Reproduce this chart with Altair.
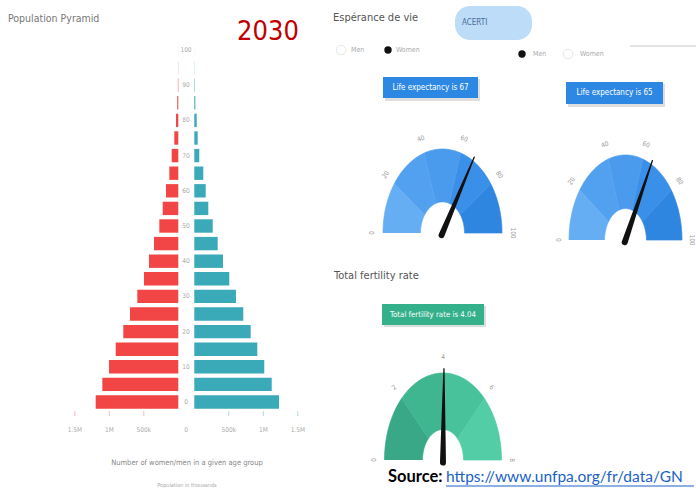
import altair as alt
import pandas as pd

# ---------------- data ----------------
age_groups = [0, 5, 10, 15, 20, 25, 30, 35, 40, 45, 50, 55, 60, 65, 70, 75, 80, 85, 90, 95, 100]
male_k = [1197, 1101, 1004, 907, 797, 700, 594, 497, 425, 352, 275, 226, 178, 130, 96, 58, 33, 15, 6, 2, 0.5]
female_k = [1228, 1122, 1014, 913, 817, 710, 604, 507, 416, 339, 267, 203, 165, 130, 72, 49, 35, 15, 6, 2, 0.5]
age_ticks = [0, 10, 20, 30, 40, 50, 60, 70, 80, 90, 100]
x_tick_values = [0, 500, 1000, 1500]
x_tick_labels = ["0", "500k", "1M", "1.5M"]

life_bands = [0, 20, 40, 60, 80, 100]
life_colors = ["#66aef4", "#52a1f0", "#4a9bee", "#3a8fe8", "#2f86e1"]
life_women = 67
life_men = 65
fert_bands = [0, 2, 4, 6, 8]
fert_colors = ["#38a886", "#3fb690", "#47c29a", "#52cda6"]
fertility = 4.04

NARROW = "Liberation Sans Narrow, DejaVu Sans Condensed, Roboto, sans-serif"
one = pd.DataFrame({"d": [0]})


def txt(s, x, y, size=10, color="#666", align="left", font=NARROW, weight="normal", angle=0):
    return alt.Chart(one).mark_text(
        text=s, align=align, baseline="middle", fontSize=size, color=color,
        font=font, fontWeight=weight, angle=angle
    ).encode(x=alt.value(x), y=alt.value(y))


def rect(x1, x2, y1, y2, color, radius=0, opacity=1.0):
    return alt.Chart(one).mark_rect(color=color, cornerRadius=radius, opacity=opacity).encode(
        x=alt.value(x1), x2=alt.value(x2), y=alt.value(y1), y2=alt.value(y2))


# ---------------- pyramid ----------------
pyr = pd.DataFrame({"age": age_groups, "male": male_k, "female": female_k})
yscale = alt.Scale(domain=[0, 100], range=[402, 50], nice=False, zero=False)
mscale = alt.Scale(domain=[0, 1000], range=[178.3, 109.3], nice=False)
fscale = alt.Scale(domain=[0, 1000], range=[194.3, 263.3], nice=False)

base = alt.Chart(pyr).transform_calculate(
    y1="datum.age + 1.9", y2="datum.age - 1.9", zero="0")

male_bars = base.mark_bar(color="#f24545").encode(
    x=alt.X("male:Q", scale=mscale, axis=None),
    x2="zero:Q",
    y=alt.Y("y1:Q", scale=yscale, axis=None),
    y2="y2:Q",
)
female_bars = base.mark_bar(color="#3aa9b8").encode(
    x=alt.X("female:Q", scale=fscale, axis=None),
    x2="zero:Q",
    y=alt.Y("y1:Q", scale=yscale, axis=None),
    y2="y2:Q",
)
age_labels = alt.Chart(pd.DataFrame({"a": age_ticks})).mark_text(
    fontSize=6.5, color="#aaa", font=NARROW, baseline="middle").encode(
    x=alt.value(186), y=alt.Y("a:Q", scale=yscale, axis=None), text="a:N")

xt = pd.DataFrame({"v": x_tick_values, "lab": x_tick_labels})
xt_nz = xt[xt["v"] > 0]
m_ticklab = alt.Chart(xt_nz).mark_text(fontSize=6.5, color="#aaa", font=NARROW).encode(
    x=alt.X("v:Q", scale=mscale, axis=None), y=alt.value(430), text="lab:N")
f_ticklab = alt.Chart(xt_nz).mark_text(fontSize=6.5, color="#aaa", font=NARROW).encode(
    x=alt.X("v:Q", scale=fscale, axis=None), y=alt.value(430), text="lab:N")
zero_lab = alt.Chart(xt[xt["v"] == 0]).mark_text(fontSize=6.5, color="#aaa", font=NARROW).encode(
    x=alt.value(186), y=alt.value(430), text="lab:N")
m_tick = alt.Chart(xt_nz).mark_rule(color="#f6b9b9").encode(
    x=alt.X("v:Q", scale=mscale, axis=None), y=alt.value(411), y2=alt.value(416))
f_tick = alt.Chart(xt_nz).mark_rule(color="#b0dde3").encode(
    x=alt.X("v:Q", scale=fscale, axis=None), y=alt.value(411), y2=alt.value(416))


# ---------------- gauges ----------------
def gauge(bands, colors, value, xr, yr, inner, label_size=6.5):
    vmax = bands[-1]
    xs = alt.Scale(domain=[-1, 1], range=xr, nice=False, zero=False)
    ys = alt.Scale(domain=[0, 1], range=yr, nice=False, zero=False)
    n = 30
    df = pd.DataFrame({"lo": bands[:-1], "hi": bands[1:], "col": colors})
    seg = alt.Chart(df).transform_calculate(
        k=f"sequence(0, {2 * n + 2})"
    ).transform_flatten(["k"]).transform_calculate(
        t=f"datum.k <= {n} ? datum.lo + (datum.hi - datum.lo) * datum.k / {n} "
          f": datum.hi - (datum.hi - datum.lo) * (datum.k - {n + 1}) / {n}",
        r=f"datum.k <= {n} ? 1 : {inner}",
    ).transform_calculate(
        ang=f"PI * (1 - datum.t / {vmax})"
    ).transform_calculate(
        px="datum.r * cos(datum.ang)", py="datum.r * sin(datum.ang)"
    ).mark_line(filled=True, strokeWidth=0.7).encode(
        x=alt.X("px:Q", scale=xs, axis=None),
        y=alt.Y("py:Q", scale=ys, axis=None),
        order="k:Q",
        detail="lo:Q",
        color=alt.Color("col:N", scale=None),
        stroke=alt.Stroke("col:N", scale=None),
    )
    ticks = alt.Chart(pd.DataFrame({"v": bands})).transform_calculate(
        ang=f"PI * (1 - datum.v / {vmax})",
        rot=f"(180 * datum.v / {vmax} - 90 + 360) % 360",
    ).transform_calculate(
        px="1.18 * cos(datum.ang)", py="1.18 * sin(datum.ang)"
    ).mark_text(fontSize=label_size, color="#999", font=NARROW, baseline="middle").encode(
        x=alt.X("px:Q", scale=xs, axis=None),
        y=alt.Y("py:Q", scale=ys, axis=None),
        text="v:N",
        angle=alt.Angle("rot:Q", scale=None),
    )
    needle = alt.Chart(pd.DataFrame({"v": [value]})).transform_calculate(
        k="sequence(0, 2)"
    ).transform_flatten(["k"]).transform_calculate(
        ang=f"PI * (1 - datum.v / {vmax})",
        r="datum.k == 0 ? -0.03 : 1.05",
        w="datum.k == 0 ? 6 : 1.2",
    ).transform_calculate(
        px="datum.r * cos(datum.ang)", py="datum.r * sin(datum.ang)"
    ).mark_trail(color="#111").encode(
        x=alt.X("px:Q", scale=xs, axis=None),
        y=alt.Y("py:Q", scale=ys, axis=None),
        order="k:Q",
        size=alt.Size("w:Q", scale=None),
    )
    return [seg, ticks, needle]


g1 = gauge(life_bands, life_colors, life_women, [383, 502], [233, 149], 0.37)
g2 = gauge(life_bands, life_colors, life_men, [569, 682], [240, 155], 0.37)
g3 = gauge(fert_bands, fert_colors, fertility, [384.5, 501.5], [460, 373], 0.35)

# ---------------- dashboard furniture ----------------
decor = [
    txt("Population Pyramid", 8, 19, size=10.5, color="#777"),
    txt("2030", 268, 32, size=27, color="#c00000", align="center"),
    txt("Number of women/men in a given age group", 187, 463, size=7.5, color="#888", align="center"),
    txt("Population in thousands", 187, 485, size=5.5, color="#aaa", align="center"),
    txt("Espérance de vie", 333, 18, size=11, color="#555"),
    rect(455, 532, 6, 40, "#bcdcf8", radius=15),
    txt("ACERTI", 462, 23, size=8, color="#4a6a9a"),
    alt.Chart(one).mark_rule(color="#e4e4e4", strokeWidth=2).encode(
        x=alt.value(630), x2=alt.value(696), y=alt.value(46)),
    alt.Chart(one).mark_point(shape="circle", size=90, color="#ddd", strokeWidth=1).encode(
        x=alt.value(341), y=alt.value(50)),
    txt("Men", 351, 50, size=7, color="#aaa"),
    alt.Chart(one).mark_point(shape="circle", size=55, filled=True, color="#111", opacity=1).encode(
        x=alt.value(388), y=alt.value(50)),
    txt("Women", 396, 50, size=7, color="#aaa"),
    alt.Chart(one).mark_point(shape="circle", size=55, filled=True, color="#111", opacity=1).encode(
        x=alt.value(522), y=alt.value(54)),
    txt("Men", 533, 54, size=7, color="#aaa"),
    alt.Chart(one).mark_point(shape="circle", size=90, color="#ddd", strokeWidth=1).encode(
        x=alt.value(568), y=alt.value(54)),
    txt("Women", 580, 54, size=7, color="#aaa"),
    rect(385, 480, 79, 101, "#c8c8c8", opacity=0.6),
    rect(383, 478, 77, 98, "#2d88e3"),
    txt("Life expectancy is 67", 430.5, 87.5, size=8, color="white", align="center"),
    rect(568, 665, 84, 107, "#c8c8c8", opacity=0.6),
    rect(566, 663, 82, 104, "#2d88e3"),
    txt("Life expectancy is 65", 614.5, 93, size=8, color="white", align="center"),
    txt("Total fertility rate", 334, 276, size=11, color="#555"),
    rect(384, 486, 306, 327, "#c8c8c8", opacity=0.6),
    rect(382, 484, 304, 325, "#34b08a"),
    txt("Total fertility rate is 4.04", 433, 314.5, size=7.8, color="white", align="center"),
    txt("Source:", 388, 477, size=16.5, color="#000", font="Lato", weight="bold"),
    txt("https://www.unfpa.org/fr/data/GN", 446, 477, size=15.5, color="#1a62c6", font="Lato"),
    alt.Chart(one).mark_rule(color="#1a62c6", strokeWidth=1.2).encode(
        x=alt.value(446), x2=alt.value(694), y=alt.value(486)),
]

layers = [male_bars, female_bars, age_labels, m_ticklab, f_ticklab, zero_lab, m_tick, f_tick] + g1 + g2 + g3 + decor

chart = alt.layer(*layers).resolve_scale(
    x="independent", y="independent"
).properties(
    width=696, height=488, padding=0,
    autosize=alt.AutoSizeParams(type="none"),
    background="white",
).configure_view(stroke=None)

chart.save("out.html", embed_options={"renderer": "svg", "actions": False})
